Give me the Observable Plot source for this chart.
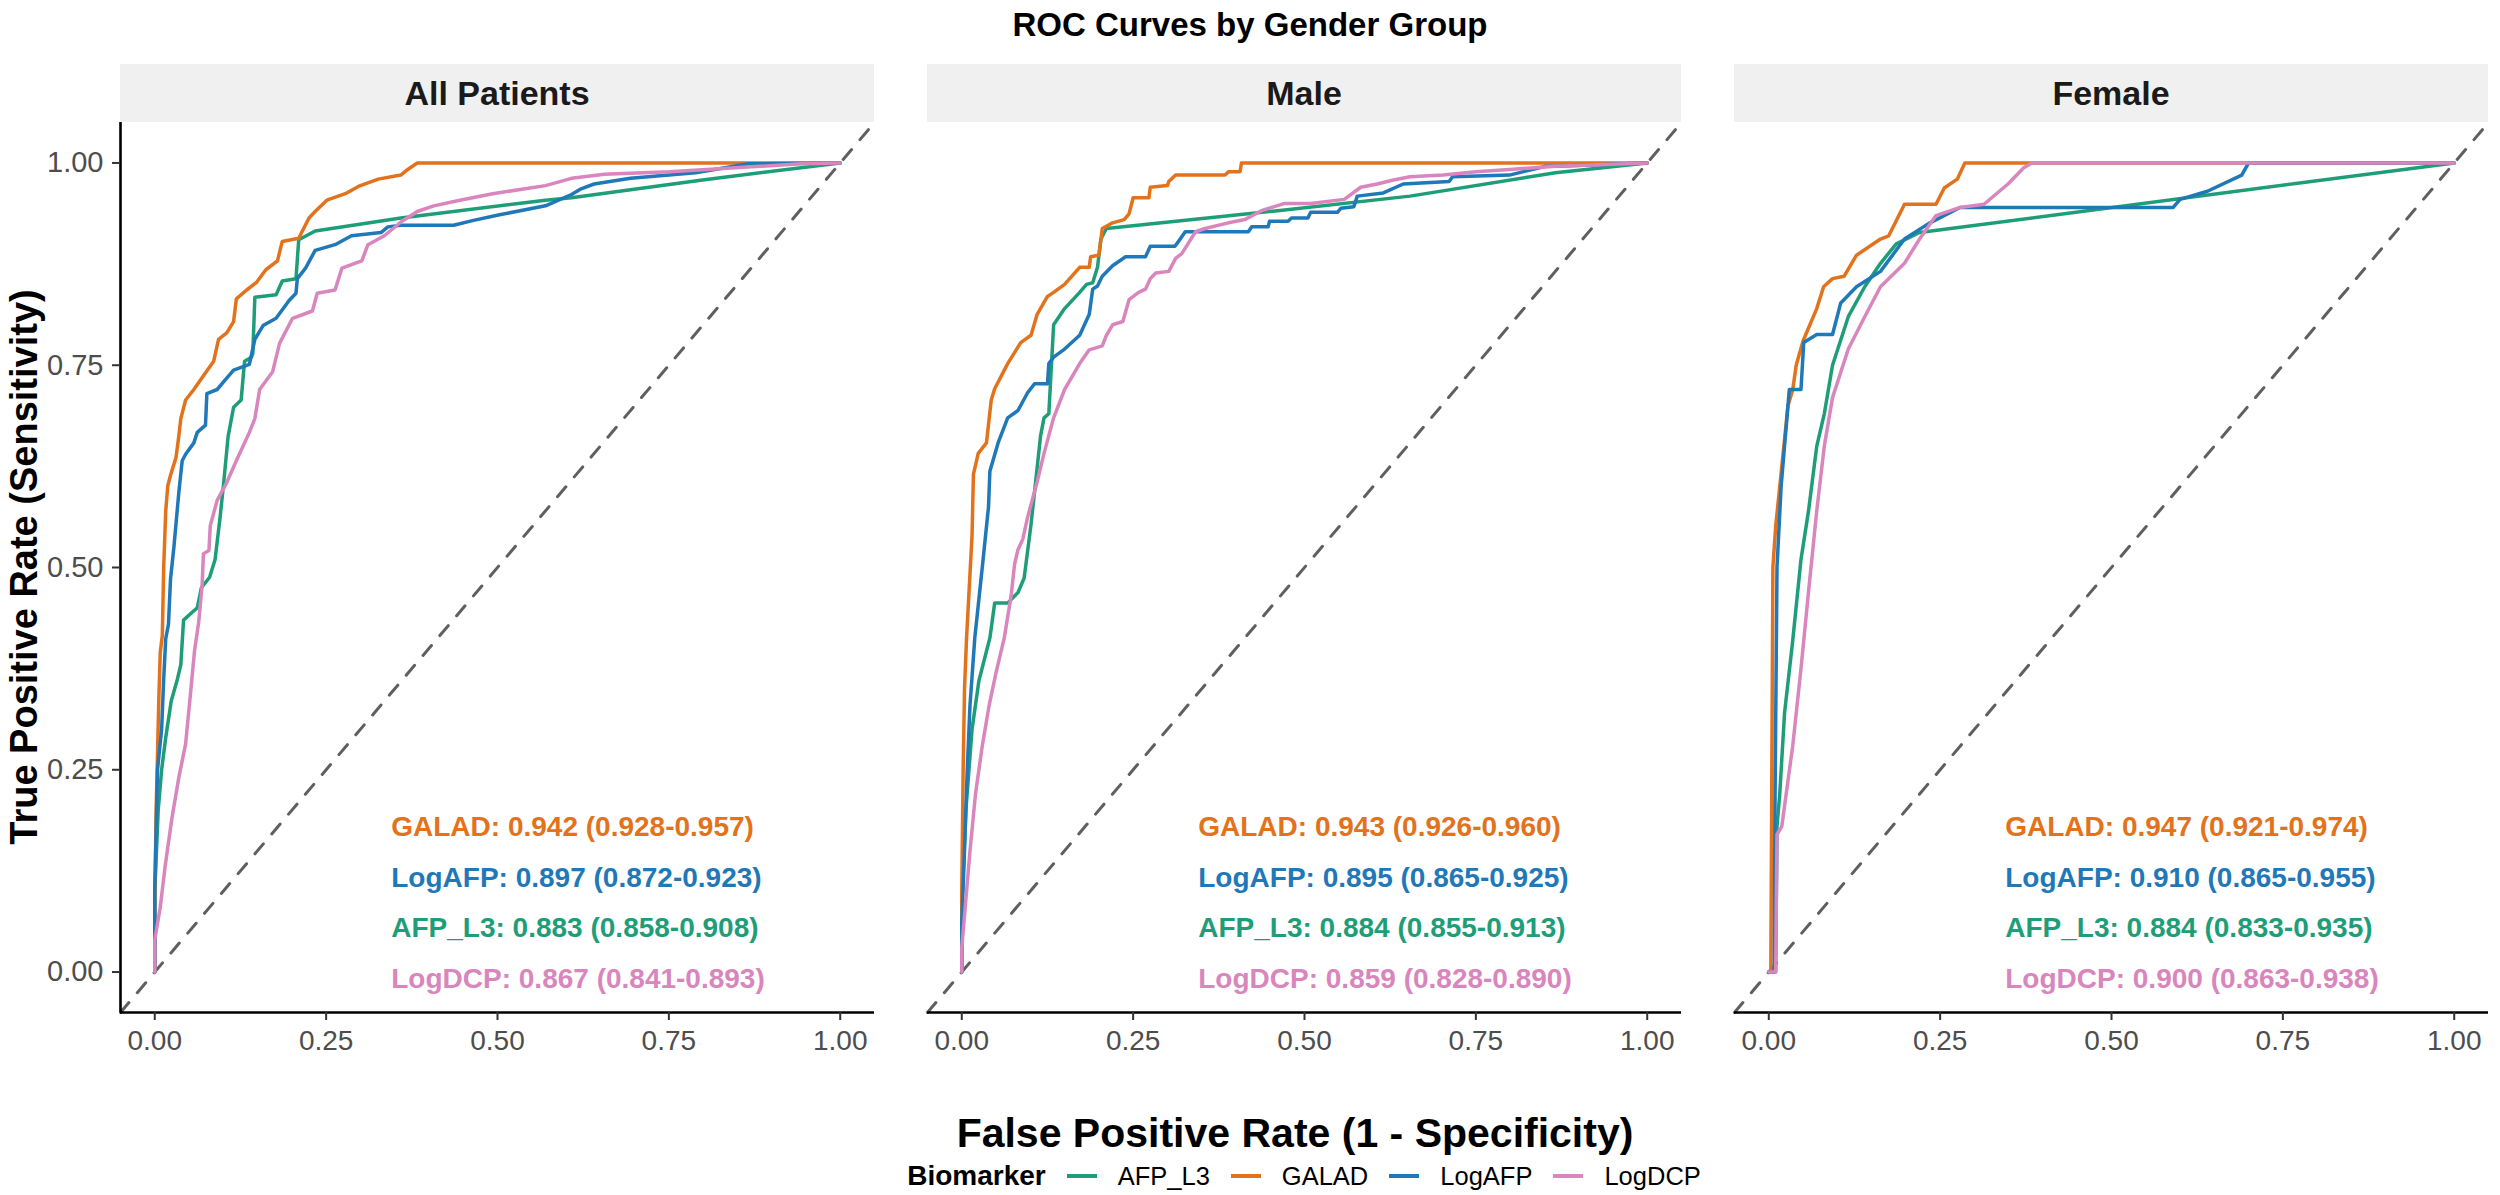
<!DOCTYPE html>
<html>
<head>
<meta charset="utf-8">
<script src="https://cdn.jsdelivr.net/npm/d3@7"></script>
<script src="https://cdn.jsdelivr.net/npm/@observablehq/plot@0.6"></script>
<style>
html,body{margin:0;padding:0;background:#fff;}
#root{position:relative;width:2500px;height:1195px;overflow:hidden;font-family:"Liberation Sans",Arial,Helvetica,sans-serif;}
#title{position:absolute;left:0;top:0;width:2500px;height:50px;line-height:50px;text-align:center;font-weight:bold;font-size:33px;color:#000;}
#chart{position:absolute;left:0;top:64px;}
#xtitle{position:absolute;left:120px;width:2350px;top:1111px;height:44px;line-height:44px;text-align:center;font-weight:bold;font-size:41px;color:#000;}
#ytitle{position:absolute;left:-421px;top:545px;width:890px;height:44px;line-height:44px;text-align:center;font-weight:bold;font-size:38px;color:#000;transform:rotate(-90deg);}
#legend{position:absolute;left:120px;width:2368px;top:1158px;height:36px;display:flex;justify-content:center;align-items:center;color:#000;}
#legend .lt{font-weight:bold;font-size:28px;margin-right:21px;}
#legend .key{width:30px;height:4px;margin-right:21px;}
#legend .lab{font-size:25.5px;margin-right:21px;}
#legend .lab:last-child{margin-right:0;}
</style>
</head>
<body>
<div id="root">
  <div id="title">ROC Curves by Gender Group</div>
  <div id="chart"></div>
  <div id="xtitle">False Positive Rate (1 - Specificity)</div>
  <div id="ytitle">True Positive Rate (Sensitivity)</div>
  <div id="legend"></div>
</div>
<script>
// ---------- data ----------
const panels = ["All Patients", "Male", "Female"];
const biomarkers = ["AFP_L3", "GALAD", "LogAFP", "LogDCP"];
const biomarkerColors = ["#1E9E78", "#E2721C", "#1F78B8", "#D886BD"];
const tickValues = [0, 0.25, 0.5, 0.75, 1];
const labelOrder = ["GALAD", "LogAFP", "AFP_L3", "LogDCP"];

// AUC labels (order: GALAD, LogAFP, AFP_L3, LogDCP)
const aucAll = ["GALAD: 0.942 (0.928-0.957)", "LogAFP: 0.897 (0.872-0.923)", "AFP_L3: 0.883 (0.858-0.908)", "LogDCP: 0.867 (0.841-0.893)"];
const aucMale = ["GALAD: 0.943 (0.926-0.960)", "LogAFP: 0.895 (0.865-0.925)", "AFP_L3: 0.884 (0.855-0.913)", "LogDCP: 0.859 (0.828-0.890)"];
const aucFemale = ["GALAD: 0.947 (0.921-0.974)", "LogAFP: 0.910 (0.865-0.955)", "AFP_L3: 0.884 (0.833-0.935)", "LogDCP: 0.900 (0.863-0.938)"];

// ROC curves [FPR, TPR]
const all_AFP_L3 = [[0,0],[0,0.1],[0.005,0.2],[0.01,0.25],[0.016,0.29],[0.024,0.335],[0.033,0.362],[0.038,0.38],[0.042,0.435],[0.055,0.445],[0.062,0.45],[0.068,0.475],[0.08,0.488],[0.088,0.51],[0.095,0.56],[0.1,0.6],[0.107,0.662],[0.115,0.698],[0.126,0.707],[0.131,0.755],[0.141,0.76],[0.143,0.764],[0.146,0.834],[0.177,0.837],[0.186,0.854],[0.206,0.857],[0.21,0.905],[0.234,0.916],[0.359,0.932],[0.57,0.954],[0.608,0.957],[0.799,0.979],[1,1]];
const all_GALAD = [[0,0],[0,0.08],[0.002,0.2],[0.004,0.27],[0.006,0.34],[0.008,0.395],[0.011,0.416],[0.013,0.5],[0.016,0.57],[0.019,0.601],[0.023,0.614],[0.031,0.636],[0.035,0.662],[0.038,0.684],[0.045,0.707],[0.057,0.72],[0.071,0.737],[0.086,0.755],[0.093,0.782],[0.105,0.79],[0.115,0.804],[0.119,0.832],[0.134,0.843],[0.148,0.852],[0.162,0.868],[0.179,0.879],[0.186,0.903],[0.21,0.907],[0.225,0.932],[0.234,0.94],[0.251,0.954],[0.278,0.962],[0.297,0.971],[0.326,0.98],[0.359,0.985],[0.369,0.992],[0.383,1],[1,1]];
const all_LogAFP = [[0,0],[0,0.1],[0.004,0.25],[0.01,0.3],[0.013,0.362],[0.016,0.412],[0.02,0.43],[0.023,0.486],[0.028,0.526],[0.035,0.592],[0.04,0.632],[0.045,0.64],[0.057,0.654],[0.062,0.667],[0.074,0.676],[0.076,0.715],[0.091,0.72],[0.1,0.729],[0.115,0.744],[0.138,0.751],[0.146,0.782],[0.158,0.799],[0.177,0.808],[0.196,0.83],[0.206,0.839],[0.208,0.857],[0.22,0.87],[0.234,0.892],[0.263,0.899],[0.287,0.91],[0.33,0.914],[0.34,0.921],[0.359,0.923],[0.436,0.923],[0.465,0.929],[0.503,0.936],[0.57,0.947],[0.608,0.961],[0.622,0.968],[0.641,0.974],[0.694,0.981],[0.789,0.988],[0.866,0.999],[1,1]];
const all_LogDCP = [[0,0],[0,0.04],[0.008,0.08],[0.015,0.13],[0.025,0.19],[0.035,0.24],[0.045,0.282],[0.053,0.352],[0.058,0.397],[0.064,0.432],[0.069,0.477],[0.071,0.517],[0.079,0.521],[0.081,0.552],[0.091,0.583],[0.105,0.605],[0.119,0.632],[0.138,0.667],[0.146,0.684],[0.153,0.72],[0.172,0.742],[0.182,0.777],[0.201,0.808],[0.23,0.817],[0.237,0.839],[0.263,0.843],[0.273,0.87],[0.302,0.879],[0.311,0.899],[0.335,0.91],[0.359,0.927],[0.383,0.94],[0.407,0.947],[0.445,0.954],[0.493,0.962],[0.57,0.972],[0.608,0.981],[0.656,0.986],[0.751,0.989],[0.847,0.994],[0.943,0.999],[1,1]];

const male_AFP_L3 = [[0,0],[0,0.08],[0.006,0.2],[0.015,0.3],[0.025,0.36],[0.041,0.413],[0.048,0.456],[0.067,0.456],[0.082,0.469],[0.091,0.487],[0.101,0.553],[0.115,0.663],[0.12,0.685],[0.127,0.69],[0.134,0.8],[0.15,0.82],[0.172,0.84],[0.182,0.85],[0.191,0.852],[0.198,0.871],[0.203,0.906],[0.211,0.919],[0.461,0.941],[0.654,0.959],[0.866,0.988],[1,1]];
const male_GALAD = [[0,0],[0,0.1],[0.002,0.25],[0.004,0.35],[0.007,0.413],[0.015,0.54],[0.017,0.615],[0.024,0.641],[0.036,0.654],[0.043,0.707],[0.048,0.721],[0.067,0.752],[0.086,0.778],[0.101,0.787],[0.11,0.813],[0.125,0.835],[0.134,0.84],[0.15,0.85],[0.172,0.871],[0.186,0.871],[0.188,0.884],[0.2,0.886],[0.205,0.919],[0.22,0.926],[0.237,0.93],[0.244,0.937],[0.25,0.957],[0.273,0.957],[0.275,0.97],[0.3,0.972],[0.302,0.977],[0.312,0.985],[0.384,0.985],[0.389,0.989],[0.406,0.989],[0.408,1],[1,1]];
const male_LogAFP = [[0,0],[0,0.06],[0.004,0.15],[0.008,0.25],[0.012,0.33],[0.019,0.413],[0.031,0.509],[0.039,0.575],[0.041,0.619],[0.053,0.654],[0.067,0.685],[0.082,0.694],[0.096,0.716],[0.106,0.727],[0.125,0.727],[0.127,0.752],[0.134,0.76],[0.15,0.77],[0.172,0.787],[0.186,0.813],[0.191,0.844],[0.198,0.848],[0.205,0.86],[0.22,0.873],[0.239,0.884],[0.268,0.884],[0.275,0.897],[0.311,0.897],[0.317,0.904],[0.326,0.915],[0.418,0.915],[0.423,0.921],[0.447,0.921],[0.449,0.928],[0.476,0.928],[0.481,0.932],[0.505,0.932],[0.509,0.939],[0.548,0.939],[0.553,0.944],[0.572,0.946],[0.577,0.959],[0.615,0.963],[0.644,0.974],[0.711,0.977],[0.716,0.983],[0.799,0.985],[0.852,0.996],[0.866,0.996],[1,1]];
const male_LogDCP = [[0,0],[0,0.03],[0.005,0.08],[0.012,0.15],[0.02,0.22],[0.03,0.28],[0.04,0.33],[0.05,0.37],[0.062,0.413],[0.072,0.465],[0.077,0.504],[0.082,0.522],[0.089,0.535],[0.096,0.562],[0.11,0.606],[0.12,0.641],[0.134,0.685],[0.15,0.72],[0.172,0.752],[0.186,0.769],[0.205,0.774],[0.211,0.787],[0.22,0.8],[0.235,0.804],[0.244,0.831],[0.258,0.84],[0.268,0.844],[0.275,0.857],[0.283,0.864],[0.302,0.866],[0.312,0.882],[0.321,0.888],[0.341,0.915],[0.355,0.919],[0.389,0.926],[0.413,0.93],[0.437,0.941],[0.471,0.95],[0.509,0.95],[0.558,0.955],[0.582,0.97],[0.606,0.974],[0.63,0.979],[0.654,0.983],[0.702,0.985],[0.75,0.989],[0.799,0.992],[0.866,0.996],[1,1]];

const female_AFP_L3 = [[0,0],[0.01,0],[0.012,0.18],[0.016,0.22],[0.023,0.32],[0.035,0.41],[0.047,0.51],[0.058,0.57],[0.07,0.65],[0.081,0.69],[0.093,0.75],[0.116,0.81],[0.14,0.847],[0.163,0.876],[0.186,0.9],[0.22,0.914],[1,1]];
const female_GALAD = [[0,0],[0.003,0],[0.004,0.17],[0.006,0.5],[0.01,0.55],[0.016,0.6],[0.022,0.65],[0.028,0.7],[0.035,0.72],[0.04,0.75],[0.05,0.78],[0.06,0.8],[0.07,0.82],[0.08,0.847],[0.093,0.857],[0.11,0.86],[0.128,0.886],[0.163,0.906],[0.175,0.91],[0.198,0.949],[0.244,0.949],[0.256,0.969],[0.275,0.98],[0.286,1],[1,1]];
const female_LogAFP = [[0,0],[0.008,0],[0.009,0.2],[0.012,0.5],[0.018,0.6],[0.023,0.65],[0.03,0.72],[0.047,0.72],[0.051,0.778],[0.07,0.788],[0.093,0.788],[0.105,0.827],[0.128,0.847],[0.163,0.866],[0.198,0.906],[0.233,0.925],[0.279,0.945],[0.59,0.945],[0.6,0.955],[0.64,0.965],[0.69,0.985],[0.7,1],[1,1]];
const female_LogDCP = [[0,0],[0.01,0],[0.012,0.17],[0.019,0.18],[0.035,0.28],[0.047,0.375],[0.058,0.47],[0.07,0.57],[0.081,0.65],[0.093,0.71],[0.116,0.77],[0.14,0.81],[0.163,0.847],[0.198,0.876],[0.22,0.906],[0.244,0.935],[0.279,0.945],[0.314,0.949],[0.349,0.974],[0.372,0.994],[0.384,1],[1,1]];

// ---------- build tables ----------
const curveSets = {
  "All Patients": [all_AFP_L3, all_GALAD, all_LogAFP, all_LogDCP],
  "Male": [male_AFP_L3, male_GALAD, male_LogAFP, male_LogDCP],
  "Female": [female_AFP_L3, female_GALAD, female_LogAFP, female_LogDCP]
};
const aucSets = {"All Patients": aucAll, "Male": aucMale, "Female": aucFemale};

const curves = [];
panels.forEach(p => {
  curveSets[p].forEach((arr, j) => {
    arr.forEach(([fpr, tpr]) => curves.push({panel: p, biomarker: biomarkers[j], fpr, tpr}));
  });
});
const labels = [];
panels.forEach(p => {
  aucSets[p].forEach((t, i) => labels.push({panel: p, biomarker: labelOrder[i], text: t, rank: i}));
});

const dom = [-0.05, 1.05];
const refLine = [{x: dom[0], y: dom[0]}, {x: dom[1], y: dom[1]}];
const fmt = d3.format(".2f");

const mTop = 58, mLeft = 120, mRight = 12, mBottom = 70, panelH = 890;
const chart = Plot.plot({
  width: 2500,
  height: mTop + panelH + mBottom,
  marginTop: mTop, marginLeft: mLeft, marginRight: mRight, marginBottom: mBottom,
  style: {fontFamily: '"Liberation Sans", Arial, sans-serif', background: "#fff", overflow: "visible"},
  x: {domain: dom},
  y: {domain: dom},
  fx: {domain: panels, paddingInner: 0.0657, paddingOuter: 0, axis: null},
  color: {domain: biomarkers, range: biomarkerColors},
  marks: [
    Plot.line(refLine, {x: "x", y: "y", stroke: "#5f5f5f", strokeWidth: 3, strokeDasharray: "13,13"}),
    Plot.line(curves, {x: "fpr", y: "tpr", z: "biomarker", stroke: "biomarker", fx: "panel", strokeWidth: 3.5, strokeLinejoin: "round"}),
    Plot.text(labels, {fx: "panel", x: () => 0.345, y: d => 0.179 - 0.0625 * d.rank, text: "text", fill: "biomarker",
      textAnchor: "start", fontWeight: "bold", fontSize: 28}),
    Plot.ruleY([dom[0]], {stroke: "#000", strokeWidth: 2.6}),
    Plot.ruleX([{panel: panels[0], x: dom[0]}], {x: "x", fx: "panel", stroke: "#000", strokeWidth: 2.6}),
    Plot.axisX({ticks: tickValues, tickFormat: fmt, tickSize: 8, tickPadding: 10, fontSize: 28, fill: "#4D4D4D", stroke: "#333", strokeWidth: 2, label: null}),
    Plot.axisY({ticks: tickValues, tickFormat: fmt, tickSize: 8, tickPadding: 9, fontSize: 29, fill: "#4D4D4D", stroke: "#333", strokeWidth: 2, label: null})
  ]
});
document.getElementById("chart").appendChild(chart);

// facet strips positioned from the fx scale
const fx = chart.scale("fx");
const svg = d3.select(chart.tagName.toLowerCase() === "svg" ? chart : chart.querySelector("svg"));
panels.forEach(p => {
  const x0 = fx.apply(p);
  const g = svg.append("g");
  g.append("rect").attr("x", x0).attr("y", 0).attr("width", fx.bandwidth).attr("height", mTop).attr("fill", "#F0F0F0");
  g.append("text").attr("x", x0 + fx.bandwidth / 2).attr("y", mTop / 2).attr("dy", "0.35em")
    .attr("text-anchor", "middle").attr("font-weight", "bold").attr("font-size", 34).attr("fill", "#1A1A1A").text(p);
});

// legend
const legend = document.getElementById("legend");
const lt = document.createElement("span"); lt.className = "lt"; lt.textContent = "Biomarker"; legend.appendChild(lt);
biomarkers.forEach((b, i) => {
  const k = document.createElement("span"); k.className = "key"; k.style.background = biomarkerColors[i]; legend.appendChild(k);
  const l = document.createElement("span"); l.className = "lab"; l.textContent = b; legend.appendChild(l);
});
</script>
</body>
</html>
